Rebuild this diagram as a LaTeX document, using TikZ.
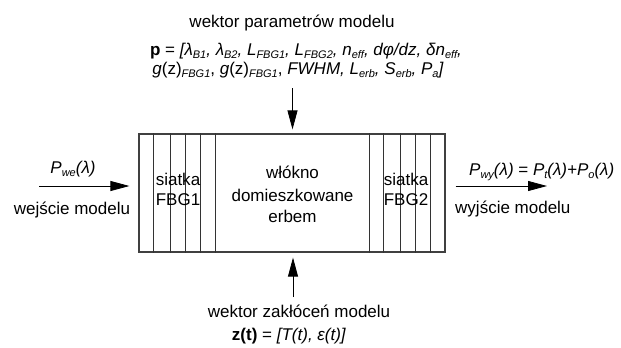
\documentclass[tikz,border=0pt]{standalone}
\usepackage{fontspec}
\setmainfont{Liberation Sans}
\usetikzlibrary{arrows.meta,positioning,calc}
\newcommand\lo[1]{\raisebox{-3bp}{\fontsize{11bp}{12bp}\selectfont\itshape #1}}

\begin{document}
\begin{tikzpicture}[
    x=1bp, y=-1bp,
    font=\fontsize{17bp}{20bp}\selectfont,
    >={Triangle[length=19bp, width=10bp]},
    block/.style={draw=black!75, line width=1.2bp, minimum width=306bp, minimum height=118bp, inner sep=0pt},
    fbg/.style={draw=black!80, line width=0.8bp},
    txt/.style={anchor=base, inner sep=0pt},
    txtw/.style={anchor=base west, inner sep=0pt},
    sig/.style={->, line width=0.8bp},
]
    \useasboundingbox (0,0) rectangle (621,347);

    % =====================================================================
    % model block with the two gratings
    % =====================================================================
    \node[block] (box) at (292,193) {};

    % grating lines
    \foreach \dx in {15,32,47,62,77}
        \draw[fbg] ([xshift=\dx bp]box.north west) -- ([xshift=\dx bp]box.south west);
    \foreach \dx in {-15,-30,-45,-62,-76}
        \draw[fbg] ([xshift=\dx bp]box.north east) -- ([xshift=\dx bp]box.south east);

    % texts inside
    \node[txt] (fbgA1) at (178,185) {siatka};
    \node[txt] (fbgA2) at (178,205) {FBG1};
    \node[txt] (fiber1) at (292.5,178) {włókno};
    \node[txt] (fiber2) at (292.5,201) {domieszkowane};
    \node[txt] (fiber3) at (292.5,222) {erbem};
    \node[txt] (fbgB1) at (406,185) {siatka};
    \node[txt] (fbgB2) at (406,205) {FBG2};

    % =====================================================================
    % input / output
    % =====================================================================
    \coordinate (inStart) at (39,186);
    \draw[sig, shorten >=9bp] (inStart) -- (inStart -| box.west);
    \node[txt] (inPow) at (73,173) {\textit{P\lo{we}(λ)}};
    \node[txt] (inName) at (72,214) {wejście modelu};

    \coordinate (outEnd) at (547,186);
    \draw[sig, shorten <=10bp] (outEnd -| box.east) -- (outEnd);
    \node[txtw] (outPow) at (469,175) {\textit{P\lo{wy}(λ)} = \textit{P\lo{t}(λ)+P\lo{o}(λ)}};
    \node[txtw] (outName) at (455,213) {wyjście modelu};

    % =====================================================================
    % parameters (top) and disturbances (bottom)
    % =====================================================================
    \node[txt] (parTitle) at (292,27) {wektor parametrów modelu};
    \node[txt] (parLineA) at (306,55) {\textbf{p} = \textit{[λ\lo{B1}, λ\lo{B2}, L\lo{FBG1}, L\lo{FBG2}, n\lo{eff}, dφ/dz, δn\lo{eff},}};
    \node[txt] (parLineB) at (298,74) {\textit{g}(z)\lo{FBG1}, \textit{g}(z)\lo{FBG1}, \textit{FWHM, L\lo{erb}, S\lo{erb}, P\lo{a}]}};
    \coordinate (parTop) at (292.5,88);
    \draw[sig, shorten >=4bp] (parTop) -- (parTop |- box.north);

    \coordinate (distBot) at (293,297);
    \draw[sig, shorten >=5bp] (distBot) -- (distBot |- box.south);
    \node[txt] (distTitle) at (299,317) {wektor zakłóceń modelu};
    \node[txt] (distLine) at (289,340) {\textbf{z(t)} = \textit{[T(t), ε(t)]}};

\end{tikzpicture}
\end{document}
